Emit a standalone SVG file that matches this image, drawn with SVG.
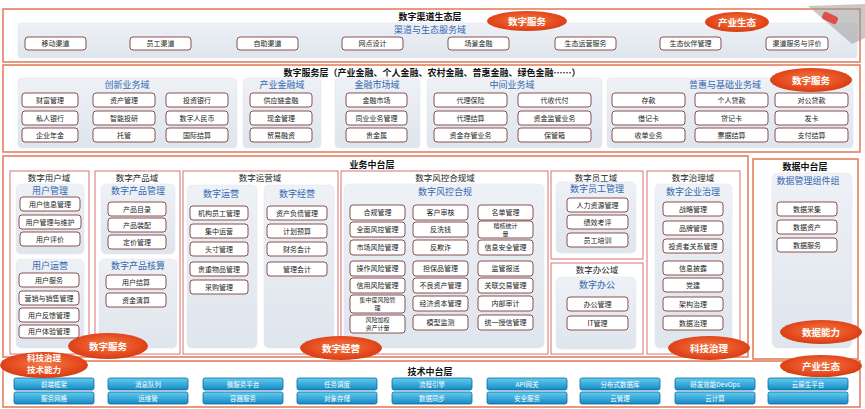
<svg xmlns="http://www.w3.org/2000/svg" width="865" height="409" viewBox="0 0 865 409">
<defs>
<linearGradient id="pg" x1="0" y1="0" x2="0" y2="1"><stop offset="0" stop-color="#eef1f6"/><stop offset="1" stop-color="#dfe5ed"/></linearGradient>
<linearGradient id="cg" x1="0" y1="0" x2="0" y2="1"><stop offset="0" stop-color="#63cdf2"/><stop offset="1" stop-color="#1489c4"/></linearGradient>
<radialGradient id="eg" cx="0.5" cy="0.45" r="0.6"><stop offset="0" stop-color="#f27a45"/><stop offset="0.7" stop-color="#e4481c"/><stop offset="1" stop-color="#cc3a12"/></radialGradient>
</defs>
<style>
text{font-family:"Noto Sans CJK SC","Liberation Sans",sans-serif;text-anchor:middle}
.sec{fill:#fff;stroke:#e3805f;stroke-width:1.6}
.box{fill:#fff;stroke:#d77373;stroke-width:1}
.pan{fill:url(#pg);stroke:#e4e8ee;stroke-width:0.6}
.b rect{fill:#fff;stroke:#7e4040;stroke-width:0.9}
.b text{font-size:7px;fill:#222}
.b text.s{font-size:6px}
.t1{font-size:9px;font-weight:bold;fill:#111}
.t2{font-size:9px;fill:#3468b0}
.t3{font-size:8.5px;fill:#222}
.e ellipse{fill:url(#eg)}
.e text{font-size:9.5px;fill:#fff;font-weight:bold}
.e text.s{font-size:8.5px}
.tb rect{fill:url(#cg);stroke:#0f6b9a;stroke-width:0.8}
.tb text{font-size:6.5px;fill:#fff}
</style>
<rect width="865" height="409" fill="#fff"/>

<!-- Section 1 -->
<g id="channel-layer">
<rect class="sec" x="3" y="9" width="857" height="53"/>
<rect class="pan" x="18" y="23" width="839" height="35" rx="3"/>
<text class="t1" x="430" y="20">数字渠道生态层</text>
<text class="t2" x="430" y="33">渠道与生态服务域</text>
</g>
<g id="n-yidong" class="b"><rect x="25" y="37" width="61" height="13" rx="3"/><text x="55.5" y="46">移动渠道</text></g>
<g id="n-yuangong" class="b"><rect x="130" y="37" width="61" height="13" rx="3"/><text x="160.5" y="46">员工渠道</text></g>
<g id="n-zizhu" class="b"><rect x="237" y="37" width="61" height="13" rx="3"/><text x="267.5" y="46">自助渠道</text></g>
<g id="n-wangdian" class="b"><rect x="342" y="37" width="61" height="13" rx="3"/><text x="372.5" y="46">网点设计</text></g>
<g id="n-changjing" class="b"><rect x="448" y="37" width="61" height="13" rx="3"/><text x="478.5" y="46">场景金融</text></g>
<g id="n-shengtaiyy" class="b"><rect x="555" y="37" width="61" height="13" rx="3"/><text x="585.5" y="46">生态运营服务</text></g>
<g id="n-huoban" class="b"><rect x="660" y="37" width="61" height="13" rx="3"/><text x="690.5" y="46">生态伙伴管理</text></g>
<g id="n-qudaopj" class="b"><rect x="766" y="37" width="62" height="13" rx="3"/><text x="797" y="46">渠道服务与评价</text></g>

<g id="stamp"><polygon points="808,6 865,4 865,38 852,44" fill="#9a9a9a" opacity="0.55"/><rect x="822" y="14" width="16" height="8" rx="3" fill="#e0504a" transform="rotate(25 830 18)"/></g>

<!-- Section 2 -->
<g id="service-layer">
<rect class="sec" x="3" y="65" width="857" height="87"/>
<text class="t1" x="432" y="76">数字服务层（产业金融、个人金融、农村金融、普惠金融、绿色金融……）</text>
<rect class="pan" x="18" y="78" width="219" height="70" rx="4"/>
<rect class="pan" x="243" y="78" width="78" height="70" rx="4"/>
<rect class="pan" x="335" y="78" width="85" height="70" rx="4"/>
<rect class="pan" x="427" y="78" width="175" height="70" rx="4"/>
<rect class="pan" x="607" y="78" width="246" height="70" rx="4"/>
<text class="t2" x="127" y="88">创新业务域</text>
<text class="t2" x="282" y="88">产业金融域</text>
<text class="t2" x="377" y="88">金融市场域</text>
<text class="t2" x="512" y="88">中间业务域</text>
<text class="t2" x="725" y="88">普惠与基础业务域</text>
</g>
<g id="n-caifu" class="b"><rect x="22" y="93" width="56" height="14" rx="3"/><text x="50" y="102.5">财富管理</text></g>
<g id="n-zichan" class="b"><rect x="93" y="93" width="62" height="14" rx="3"/><text x="124" y="102.5">资产管理</text></g>
<g id="n-touhang" class="b"><rect x="166" y="93" width="62" height="14" rx="3"/><text x="197" y="102.5">投资银行</text></g>
<g id="n-siren" class="b"><rect x="22" y="111" width="56" height="14" rx="3"/><text x="50" y="120.5">私人银行</text></g>
<g id="n-zhineng" class="b"><rect x="93" y="111" width="62" height="14" rx="3"/><text x="124" y="120.5">智能投研</text></g>
<g id="n-shuzirmb" class="b"><rect x="166" y="111" width="62" height="14" rx="3"/><text x="197" y="120.5">数字人民币</text></g>
<g id="n-nianjin" class="b"><rect x="22" y="128" width="56" height="14" rx="3"/><text x="50" y="137.5">企业年金</text></g>
<g id="n-tuoguan" class="b"><rect x="93" y="128" width="62" height="14" rx="3"/><text x="124" y="137.5">托管</text></g>
<g id="n-guoji" class="b"><rect x="166" y="128" width="62" height="14" rx="3"/><text x="197" y="137.5">国际结算</text></g>
<g id="n-gyl" class="b"><rect x="250" y="93" width="62" height="14" rx="3"/><text x="281" y="102.5">供应链金融</text></g>
<g id="n-xianjin" class="b"><rect x="250" y="111" width="62" height="14" rx="3"/><text x="281" y="120.5">现金管理</text></g>
<g id="n-maoyi" class="b"><rect x="250" y="128" width="62" height="14" rx="3"/><text x="281" y="137.5">贸易融资</text></g>
<g id="n-jrsc" class="b"><rect x="346" y="93" width="61" height="14" rx="3"/><text x="376.5" y="102.5">金融市场</text></g>
<g id="n-tongye" class="b"><rect x="346" y="111" width="61" height="14" rx="3"/><text x="376.5" y="120.5">同业业务管理</text></g>
<g id="n-guijinshu" class="b"><rect x="346" y="128" width="61" height="14" rx="3"/><text x="376.5" y="137.5">贵金属</text></g>
<g id="n-dlbx" class="b"><rect x="434" y="93" width="73" height="14" rx="3"/><text x="470.5" y="102.5">代理保险</text></g>
<g id="n-dsdf" class="b"><rect x="518" y="93" width="73" height="14" rx="3"/><text x="554.5" y="102.5">代收代付</text></g>
<g id="n-dljs" class="b"><rect x="434" y="111" width="73" height="14" rx="3"/><text x="470.5" y="120.5">代理结算</text></g>
<g id="n-zjjg" class="b"><rect x="518" y="111" width="73" height="14" rx="3"/><text x="554.5" y="120.5">资金监管业务</text></g>
<g id="n-zjcg" class="b"><rect x="434" y="128" width="73" height="14" rx="3"/><text x="470.5" y="137.5">资金存管业务</text></g>
<g id="n-bgx" class="b"><rect x="518" y="128" width="73" height="14" rx="3"/><text x="554.5" y="137.5">保管箱</text></g>
<g id="n-cunkuan" class="b"><rect x="612" y="93" width="73" height="14" rx="3"/><text x="648.5" y="102.5">存款</text></g>
<g id="n-grdk" class="b"><rect x="695" y="93" width="73" height="14" rx="3"/><text x="731.5" y="102.5">个人贷款</text></g>
<g id="n-dgdk" class="b"><rect x="775" y="93" width="73" height="14" rx="3"/><text x="811.5" y="102.5">对公贷款</text></g>
<g id="n-jjk" class="b"><rect x="612" y="111" width="73" height="14" rx="3"/><text x="648.5" y="120.5">借记卡</text></g>
<g id="n-djk" class="b"><rect x="695" y="111" width="73" height="14" rx="3"/><text x="731.5" y="120.5">贷记卡</text></g>
<g id="n-fk" class="b"><rect x="775" y="111" width="73" height="14" rx="3"/><text x="811.5" y="120.5">发卡</text></g>
<g id="n-sd" class="b"><rect x="612" y="128" width="73" height="14" rx="3"/><text x="648.5" y="137.5">收单业务</text></g>
<g id="n-pjjs" class="b"><rect x="695" y="128" width="73" height="14" rx="3"/><text x="731.5" y="137.5">票据结算</text></g>
<g id="n-zfjs" class="b"><rect x="775" y="128" width="73" height="14" rx="3"/><text x="811.5" y="137.5">支付结算</text></g>

<!-- Section 3 -->
<g id="biz-layer">
<rect class="sec" x="3" y="156" width="745" height="201"/>
<rect class="box" x="10" y="171" width="79" height="183"/>
<rect class="box" x="95" y="171" width="85" height="183"/>
<rect class="box" x="183" y="171" width="155" height="183"/>
<rect class="box" x="341" y="171" width="207" height="183"/>
<rect class="box" x="551" y="171" width="92" height="88"/>
<rect class="box" x="551" y="263" width="92" height="91"/>
<rect class="box" x="647" y="171" width="93" height="183"/>
<text class="t1" x="372" y="168">业务中台层</text>
<text class="t3" x="49" y="181">数字用户域</text>
<text class="t3" x="137" y="181">数字产品域</text>
<text class="t3" x="260" y="181">数字运营域</text>
<text class="t3" x="445" y="181">数字风控合规域</text>
<text class="t3" x="596" y="181">数字员工域</text>
<text class="t3" x="597" y="273">数字办公域</text>
<text class="t3" x="693" y="181">数字治理域</text>
<rect class="pan" x="16" y="184" width="68" height="70" rx="5"/>
<rect class="pan" x="16" y="259" width="68" height="89" rx="5"/>
<rect class="pan" x="101" y="184" width="74" height="70" rx="5"/>
<rect class="pan" x="99" y="259" width="78" height="89" rx="5"/>
<rect class="pan" x="187" y="185" width="70" height="163" rx="5"/>
<rect class="pan" x="264" y="185" width="70" height="163" rx="5"/>
<rect class="pan" x="344" y="184" width="200" height="164" rx="5"/>
<rect class="pan" x="556" y="182" width="80" height="71" rx="5"/>
<rect class="pan" x="556" y="277" width="80" height="72" rx="5"/>
<rect class="pan" x="655" y="184" width="77" height="164" rx="5"/>
<text class="t2" x="50" y="194">用户管理</text>
<text class="t2" x="50" y="269">用户运营</text>
<text class="t2" x="138" y="194">数字产品管理</text>
<text class="t2" x="138" y="269">数字产品核算</text>
<text class="t2" x="221" y="197">数字运营</text>
<text class="t2" x="297" y="197">数字经营</text>
<text class="t2" x="445" y="195">数字风控合规</text>
<text class="t2" x="597" y="192">数字员工管理</text>
<text class="t2" x="597" y="288">数字办公</text>
<text class="t2" x="693" y="195">数字企业治理</text>
</g>
<g id="n-yhxx" class="b"><rect x="20" y="197" width="60" height="14" rx="3"/><text x="50" y="206.5">用户信息管理</text></g>
<g id="n-yhwh" class="b"><rect x="19" y="215" width="62" height="14" rx="3"/><text x="50" y="224.5">用户管理与维护</text></g>
<g id="n-yhpj" class="b"><rect x="20" y="232" width="60" height="14" rx="3"/><text x="50" y="241.5">用户评价</text></g>
<g id="n-yhfw" class="b"><rect x="19" y="273" width="60" height="14" rx="3"/><text x="49" y="282.5">用户服务</text></g>
<g id="n-yxxs" class="b"><rect x="19" y="291" width="60" height="14" rx="3"/><text x="49" y="300.5">营销与销售管理</text></g>
<g id="n-yhfk" class="b"><rect x="19" y="308" width="60" height="14" rx="3"/><text x="49" y="317.5">用户反馈管理</text></g>
<g id="n-yhty" class="b"><rect x="19" y="325" width="60" height="13" rx="3"/><text x="49" y="334">用户体验管理</text></g>
<g id="n-cpml" class="b"><rect x="108" y="202" width="58" height="14" rx="3"/><text x="137" y="211.5">产品目录</text></g>
<g id="n-cpzp" class="b"><rect x="108" y="218" width="58" height="14" rx="3"/><text x="137" y="227.5">产品装配</text></g>
<g id="n-djgl" class="b"><rect x="108" y="235" width="58" height="14" rx="3"/><text x="137" y="244.5">定价管理</text></g>
<g id="n-yhjs" class="b"><rect x="106" y="275" width="60" height="14" rx="3"/><text x="136" y="284.5">用户结算</text></g>
<g id="n-zjqs" class="b"><rect x="106" y="293" width="60" height="14" rx="3"/><text x="136" y="302.5">资金清算</text></g>
<g id="n-jgyg" class="b"><rect x="190" y="206" width="58" height="14" rx="3"/><text x="219" y="215.5">机构员工管理</text></g>
<g id="n-jzyy" class="b"><rect x="190" y="224" width="58" height="14" rx="3"/><text x="219" y="233.5">集中运营</text></g>
<g id="n-tcgl" class="b"><rect x="190" y="242" width="58" height="14" rx="3"/><text x="219" y="251.5">头寸管理</text></g>
<g id="n-gzwp" class="b"><rect x="190" y="262" width="58" height="14" rx="3"/><text x="219" y="271.5">贵重物品管理</text></g>
<g id="n-cggl" class="b"><rect x="190" y="280" width="58" height="14" rx="3"/><text x="219" y="289.5">采购管理</text></g>
<g id="n-zcfz" class="b"><rect x="267" y="206" width="60" height="14" rx="3"/><text x="297" y="215.5">资产负债管理</text></g>
<g id="n-jhys" class="b"><rect x="267" y="224" width="60" height="14" rx="3"/><text x="297" y="233.5">计划预算</text></g>
<g id="n-cwkj" class="b"><rect x="267" y="242" width="60" height="14" rx="3"/><text x="297" y="251.5">财务会计</text></g>
<g id="n-glkj" class="b"><rect x="267" y="262" width="60" height="14" rx="3"/><text x="297" y="271.5">管理会计</text></g>

<g id="n-hggl" class="b"><rect x="350" y="205" width="55" height="15" rx="3"/><text x="377.5" y="215">合规管理</text></g>
<g id="n-khsc" class="b"><rect x="413" y="205" width="55" height="15" rx="3"/><text x="440.5" y="215">客户审核</text></g>
<g id="n-mdgl" class="b"><rect x="478" y="205" width="55" height="15" rx="3"/><text x="505.5" y="215">名单管理</text></g>
<g id="n-qmfk" class="b"><rect x="350" y="222" width="55" height="15" rx="3"/><text x="377.5" y="232">全面风控管理</text></g>
<g id="n-fxq" class="b"><rect x="413" y="222" width="55" height="15" rx="3"/><text x="440.5" y="232">反洗钱</text></g>
<g id="n-jjtj" class="b"><rect x="478" y="221" width="55" height="17" rx="3"/><text class="s" x="505.5" y="228">稽核统计</text><text class="s" x="505.5" y="236">量</text></g>
<g id="n-scfx" class="b"><rect x="350" y="240" width="55" height="15" rx="3"/><text x="377.5" y="250">市场风险管理</text></g>
<g id="n-fqz" class="b"><rect x="413" y="240" width="55" height="15" rx="3"/><text x="440.5" y="250">反欺诈</text></g>
<g id="n-xxaq" class="b"><rect x="478" y="240" width="55" height="15" rx="3"/><text x="505.5" y="250">信息安全管理</text></g>
<g id="n-czfx" class="b"><rect x="350" y="261" width="55" height="15" rx="3"/><text x="377.5" y="271">操作风险管理</text></g>
<g id="n-dbp" class="b"><rect x="413" y="261" width="55" height="15" rx="3"/><text x="440.5" y="271">担保品管理</text></g>
<g id="n-jgbs" class="b"><rect x="478" y="261" width="55" height="15" rx="3"/><text x="505.5" y="271">监管报送</text></g>
<g id="n-xyfx" class="b"><rect x="350" y="278" width="55" height="15" rx="3"/><text x="377.5" y="288">信用风险管理</text></g>
<g id="n-blzc" class="b"><rect x="413" y="278" width="55" height="15" rx="3"/><text x="440.5" y="288">不良资产管理</text></g>
<g id="n-gljy" class="b"><rect x="478" y="278" width="55" height="15" rx="3"/><text x="505.5" y="288">关联交易管理</text></g>
<g id="n-jzd" class="b"><rect x="350" y="295" width="55" height="18" rx="3"/><text class="s" x="377.5" y="302">集中度风险管</text><text class="s" x="377.5" y="310">理</text></g>
<g id="n-jjzb" class="b"><rect x="413" y="296" width="55" height="15" rx="3"/><text x="440.5" y="306">经济资本管理</text></g>
<g id="n-nbsj" class="b"><rect x="478" y="296" width="55" height="15" rx="3"/><text x="505.5" y="306">内部审计</text></g>
<g id="n-fxjq" class="b"><rect x="350" y="315" width="55" height="18" rx="3"/><text class="s" x="377.5" y="322">风险加权</text><text class="s" x="377.5" y="330">资产计量</text></g>
<g id="n-mxjc" class="b"><rect x="413" y="315" width="55" height="15" rx="3"/><text x="440.5" y="325">模型监测</text></g>
<g id="n-tysx" class="b"><rect x="478" y="315" width="55" height="15" rx="3"/><text x="505.5" y="325">统一授信管理</text></g>

<g id="n-rlzy" class="b"><rect x="567" y="198" width="61" height="14" rx="3"/><text x="597.5" y="207.5">人力资源管理</text></g>
<g id="n-jxkp" class="b"><rect x="567" y="215" width="61" height="14" rx="3"/><text x="597.5" y="224.5">绩效考评</text></g>
<g id="n-ygpx" class="b"><rect x="567" y="233" width="61" height="14" rx="3"/><text x="597.5" y="242.5">员工培训</text></g>
<g id="n-bggl" class="b"><rect x="567" y="297" width="61" height="14" rx="3"/><text x="597.5" y="306.5">办公管理</text></g>
<g id="n-itgl" class="b"><rect x="567" y="316" width="61" height="14" rx="3"/><text x="597.5" y="325.5">IT管理</text></g>

<g id="n-zlgl" class="b"><rect x="663" y="202" width="60" height="14" rx="3"/><text x="693" y="211.5">战略管理</text></g>
<g id="n-ppgl" class="b"><rect x="663" y="221" width="60" height="14" rx="3"/><text x="693" y="230.5">品牌管理</text></g>
<g id="n-tzz" class="b"><rect x="663" y="239" width="60" height="14" rx="3"/><text x="693" y="248.5">投资者关系管理</text></g>
<g id="n-xxpl" class="b"><rect x="663" y="261" width="60" height="14" rx="3"/><text x="693" y="270.5">信息披露</text></g>
<g id="n-dj" class="b"><rect x="663" y="278" width="60" height="14" rx="3"/><text x="693" y="287.5">党建</text></g>
<g id="n-jgzl" class="b"><rect x="663" y="297" width="60" height="14" rx="3"/><text x="693" y="306.5">架构治理</text></g>
<g id="n-sjzl" class="b"><rect x="663" y="316" width="60" height="14" rx="3"/><text x="693" y="325.5">数据治理</text></g>

<!-- Data middle layer -->
<g id="data-layer">
<rect class="sec" x="753" y="159" width="105" height="200"/>
<rect class="pan" x="772" y="173" width="80" height="175" rx="6"/>
<text class="t1" x="805" y="170">数据中台层</text>
<text class="t2" x="808" y="184">数据管理组件组</text>
</g>
<g id="n-sjcj" class="b"><rect x="777" y="202" width="60" height="14" rx="3"/><text x="807" y="211.5">数据采集</text></g>
<g id="n-sjzc" class="b"><rect x="777" y="220" width="60" height="14" rx="3"/><text x="807" y="229.5">数据资产</text></g>
<g id="n-sjfw" class="b"><rect x="777" y="238" width="60" height="14" rx="3"/><text x="807" y="247.5">数据服务</text></g>

<!-- Tech layer -->
<g id="tech-layer">
<rect class="sec" x="3" y="361" width="857" height="46"/>
<text class="t1" x="430" y="375">技术中台层</text>
</g>
<g id="tech-row1" class="tb">
<rect x="14" y="378" width="80" height="12" rx="2"/><text x="54" y="386.5">前端框架</text>
<rect x="108" y="378" width="80" height="12" rx="2"/><text x="148" y="386.5">消息队列</text>
<rect x="203" y="378" width="80" height="12" rx="2"/><text x="243" y="386.5">微服务平台</text>
<rect x="297" y="378" width="80" height="12" rx="2"/><text x="337" y="386.5">任务调度</text>
<rect x="392" y="378" width="80" height="12" rx="2"/><text x="432" y="386.5">流程引擎</text>
<rect x="487" y="378" width="80" height="12" rx="2"/><text x="527" y="386.5">API网关</text>
<rect x="580" y="378" width="80" height="12" rx="2"/><text x="620" y="386.5">分布式数据库</text>
<rect x="675" y="378" width="80" height="12" rx="2"/><text x="715" y="386.5">研发效能DevOps</text>
<rect x="768" y="378" width="80" height="12" rx="2"/><text x="808" y="386.5">云原生平台</text>
</g>
<g id="tech-row2" class="tb">
<rect x="14" y="392" width="80" height="12" rx="2"/><text x="54" y="400.5">服务网格</text>
<rect x="108" y="392" width="80" height="12" rx="2"/><text x="148" y="400.5">运维管</text>
<rect x="203" y="392" width="80" height="12" rx="2"/><text x="243" y="400.5">容器服务</text>
<rect x="297" y="392" width="80" height="12" rx="2"/><text x="337" y="400.5">对象存储</text>
<rect x="392" y="392" width="80" height="12" rx="2"/><text x="432" y="400.5">数据同步</text>
<rect x="487" y="392" width="80" height="12" rx="2"/><text x="527" y="400.5">安全服务</text>
<rect x="580" y="392" width="80" height="12" rx="2"/><text x="620" y="400.5">云管理</text>
<rect x="675" y="392" width="80" height="12" rx="2"/><text x="715" y="400.5">云计算</text>
<rect x="768" y="392" width="80" height="12" rx="2"/>
</g>

<g id="connectors"/>

<!-- Orange labels -->
<g id="e-szfw1" class="e"><ellipse cx="527" cy="21" rx="40" ry="10"/><text x="527" y="24.5">数字服务</text></g>
<g id="e-cyst1" class="e"><ellipse cx="737" cy="22" rx="32" ry="10"/><text x="737" y="25.5">产业生态</text></g>
<g id="e-szfw2" class="e"><ellipse cx="811" cy="80" rx="41" ry="12"/><text x="811" y="83.5">数字服务</text></g>
<g id="e-szfw3" class="e"><ellipse cx="108" cy="346" rx="40" ry="13"/><text x="108" y="349.5">数字服务</text></g>
<g id="e-kjzl1" class="e"><ellipse cx="44" cy="365" rx="44" ry="13"/><text class="s" x="44" y="361">科技治理</text><text class="s" x="44" y="372.5">技术能力</text></g>
<g id="e-szjy" class="e"><ellipse cx="341" cy="348" rx="41" ry="12"/><text x="341" y="351.5">数字经营</text></g>
<g id="e-kjzl2" class="e"><ellipse cx="709" cy="348" rx="41" ry="12"/><text x="709" y="351.5">科技治理</text></g>
<g id="e-sjnl" class="e"><ellipse cx="821" cy="332" rx="41" ry="12"/><text x="821" y="335.5">数据能力</text></g>
<g id="e-cyst2" class="e"><ellipse cx="821" cy="366" rx="41" ry="11"/><text x="821" y="369.5">产业生态</text></g>
</svg>
